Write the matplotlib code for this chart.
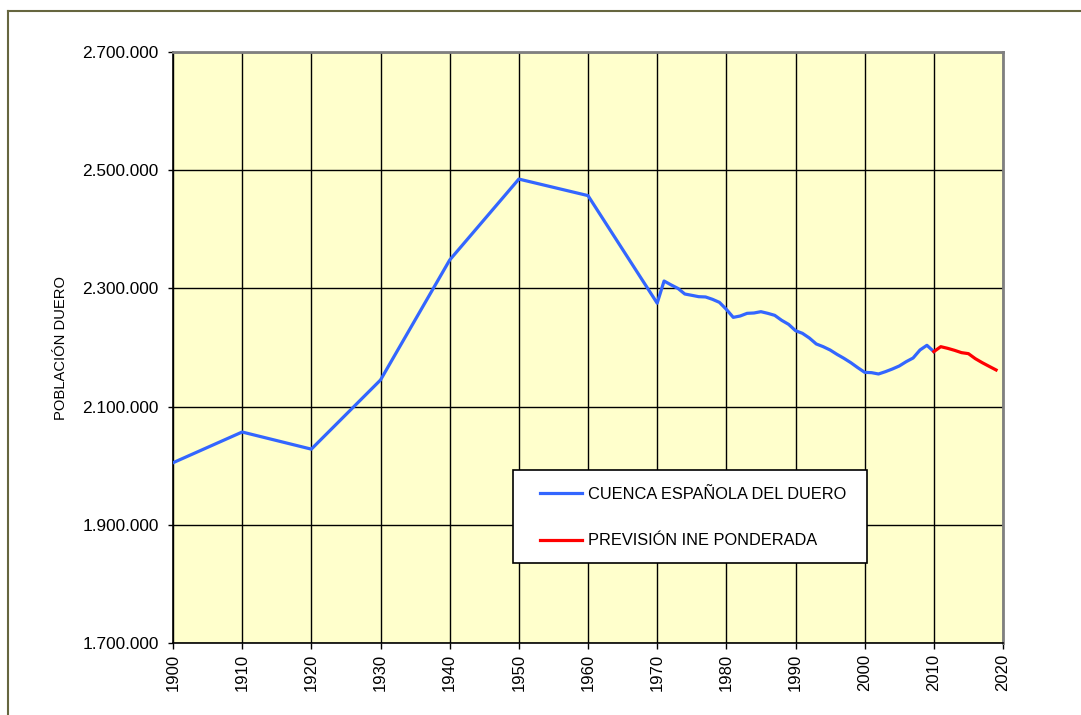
#!/usr/bin/env python3
import matplotlib.pyplot as plt
import matplotlib.ticker as mticker
from matplotlib.lines import Line2D
from matplotlib.patches import Rectangle

plt.rcParams['font.family'] = ['Liberation Sans', 'DejaVu Sans']

# observed population, Spanish Duero basin
years_obs = [1900, 1910, 1920, 1930, 1940, 1950, 1960, 1970,
             1971, 1972, 1973, 1974, 1975, 1976, 1977, 1978, 1979, 1980,
             1981, 1982, 1983, 1984, 1985, 1986, 1987, 1988, 1989, 1990,
             1991, 1992, 1993, 1994, 1995, 1996, 1997, 1998, 1999, 2000,
             2001, 2002, 2003, 2004, 2005, 2006, 2007, 2008, 2009, 2010]
pop_obs = [2005000, 2057000, 2028000, 2145000, 2348000, 2485000, 2457000, 2275000,
           2312500, 2306000, 2300000, 2290500, 2288300, 2286000, 2285500, 2281500, 2276400, 2264600,
           2251000, 2253300, 2257800, 2258400, 2260600, 2257800, 2254400, 2246000, 2239200, 2228500,
           2224000, 2216100, 2206000, 2201400, 2195800, 2188400, 2181700, 2174300, 2165900, 2158000,
           2157400, 2155200, 2159100, 2163600, 2168700, 2176000, 2182200, 2195800, 2203700, 2193000]

# INE weighted projection
years_prev = [2010, 2011, 2012, 2013, 2014, 2015, 2016, 2017, 2018, 2019]
pop_prev = [2193000, 2201400, 2198600, 2195200, 2191300, 2189600, 2181100, 2174300, 2168100, 2162000]

labels = ['CUENCA ESPAÑOLA DEL DUERO', 'PREVISIÓN INE PONDERADA']
x_ticks = list(range(1900, 2021, 10))
y_ticks = [1700000, 1900000, 2100000, 2300000, 2500000, 2700000]

fig = plt.figure(figsize=(10.81, 7.15), dpi=100)
ax = fig.add_axes([173 / 1081, 1 - 643 / 715, 830 / 1081, 591 / 715])
ax.set_facecolor('#FFFFCC')

# outer chart frame
frame_col = '#66663F'
fig.add_artist(Line2D([8 / 1081, 8 / 1081], [0, 1 - 11 / 715], transform=fig.transFigure,
                      color=frame_col, lw=1.5))
fig.add_artist(Line2D([8 / 1081, 1], [1 - 11 / 715, 1 - 11 / 715], transform=fig.transFigure,
                      color=frame_col, lw=1.5))

ax.plot(years_obs, pop_obs, color='#3366FF', lw=2.3, label=labels[0], zorder=3)
ax.plot(years_prev, pop_prev, color='#FF0000', lw=2.3, label=labels[1], zorder=3)

ax.set_xlim(1900, 2020)
ax.set_ylim(1700000, 2700000)
ax.set_xticks(x_ticks)
ax.set_yticks(y_ticks)
ax.yaxis.set_major_formatter(mticker.FuncFormatter(lambda v, p: f'{int(v):,}'.replace(',', '.')))
ax.tick_params(axis='x', labelrotation=90, labelsize=12, length=4, width=1, direction='out', pad=3.5)
ax.tick_params(axis='y', labelsize=12.4, length=3.6, width=1, direction='out', pad=6.8)
ax.grid(True, color='black', lw=1)
ax.set_axisbelow(True)

for s in ['left', 'bottom']:
    ax.spines[s].set_color('black')
    ax.spines[s].set_linewidth(1.2)
for s in ['top', 'right']:
    ax.spines[s].set_color('#808080')
    ax.spines[s].set_linewidth(2)

ax.set_ylabel('POBLACIÓN DUERO', fontsize=10.6)
ax.yaxis.set_label_coords(-0.127, 0.5)

# legend box drawn separately, frameless legend placed inside
ax.add_patch(Rectangle((0.4096, 0.1354), 0.4265, 0.1574, transform=ax.transAxes,
                       facecolor='white', edgecolor='black', lw=1.2, zorder=4))
leg = ax.legend(loc='upper left', bbox_to_anchor=(0.4422, 0.2648), fontsize=11.8,
                frameon=False, borderpad=0, labelspacing=1.95, handlelength=2.56,
                handletextpad=0.36, borderaxespad=0)
leg.set_zorder(5)

plt.savefig('out.png', dpi=100)
plt.close()
